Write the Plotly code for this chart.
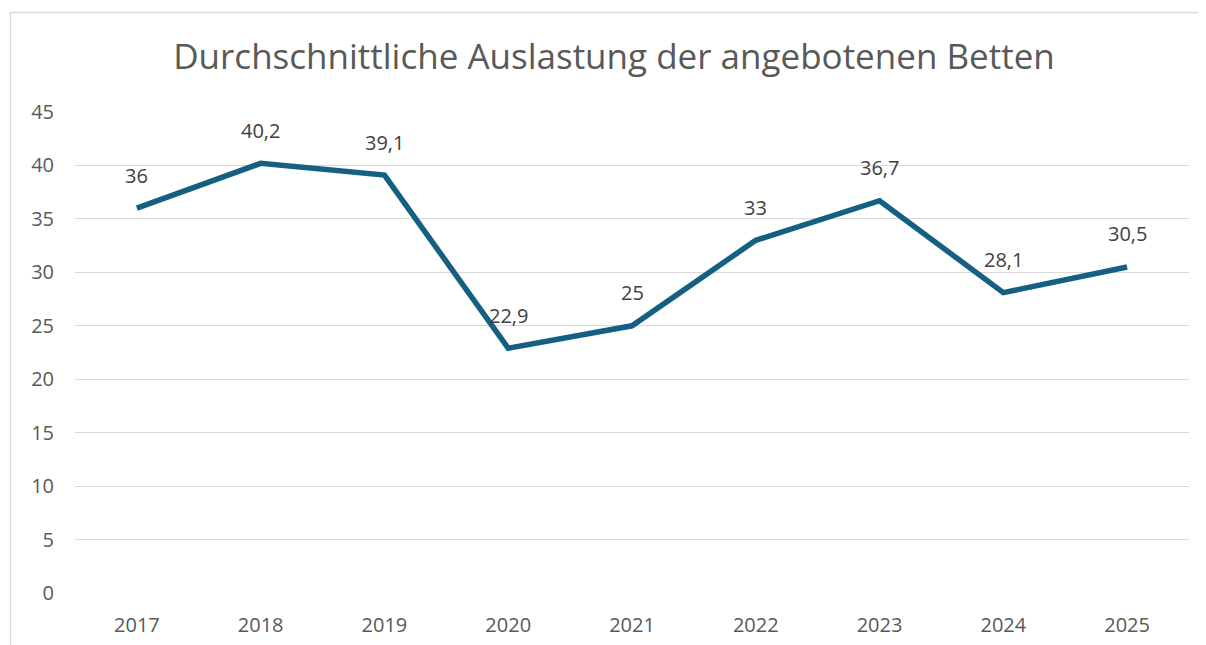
import plotly.graph_objects as go

years = ["2017", "2018", "2019", "2020", "2021", "2022", "2023", "2024", "2025"]
values = [36, 40.2, 39.1, 22.9, 25, 33, 36.7, 28.1, 30.5]
y_ticks = [0, 5, 10, 15, 20, 25, 30, 35, 40, 45]

OFF = 8  # page body margin
W, H = 1206 - OFF, 645 - OFF
L, R, T, B = 75 - OFF, 17, 112 - OFF, 52
pw, ph = W - L - R, H - T - B

def px_x(x):
    return (x - OFF - L) / pw

def px_y(y):
    return (H - B - (y - OFF)) / ph

FONT = "Open Sans, Liberation Sans, sans-serif"
labels = [(f"{v:g}").replace(".", ",") for v in values]

fig = go.Figure()
fig.add_trace(go.Scatter(
    x=years, y=values, mode="lines",
    line=dict(color="#156082", width=5.5),
    hoverinfo="x+y",
))

for i, (lab, v) in enumerate(zip(labels, values)):
    fig.add_annotation(
        xref="x", yref="y", x=i, y=v, text=lab,
        showarrow=False, yshift=33,
        xanchor="center", yanchor="middle",
        font=dict(family=FONT, size=20, color="#404040"),
    )

fig.add_shape(type="rect", xref="paper", yref="paper",
              x0=px_x(10.5), x1=px_x(1203.5), y0=px_y(660), y1=px_y(12.5),
              line=dict(color="#d9d9d9", width=1.5), fillcolor="rgba(0,0,0,0)", layer="below")

fig.update_layout(
    width=W, height=H,
    margin=dict(l=L, r=R, t=T, b=B, autoexpand=False),
    paper_bgcolor="white", plot_bgcolor="white",
    showlegend=False,
    separators=",.",
    title=dict(
        text="Durchschnittliche Auslastung der angebotenen Betten",
        x=(614 - OFF) / W, xref="container", xanchor="center",
        y=1 - (57 - OFF) / H, yanchor="middle",
        font=dict(family=FONT, size=35, color="#595959"),
    ),
    xaxis=dict(
        type="category", range=[-0.5, 8.5], automargin=False,
        showgrid=False, showline=False, zeroline=False,
        ticks="", ticklabelstandoff=18,
        tickfont=dict(family=FONT, size=20, color="#595959"),
    ),
    yaxis=dict(
        range=[0, 45], tickvals=y_ticks, automargin=False,
        showgrid=True, gridcolor="#d9d9d9", gridwidth=1.3,
        zeroline=False, showline=False,
        ticks="", ticklabelstandoff=20,
        tickfont=dict(family=FONT, size=20, color="#595959"),
    ),
)

fig.write_html("out.html")
